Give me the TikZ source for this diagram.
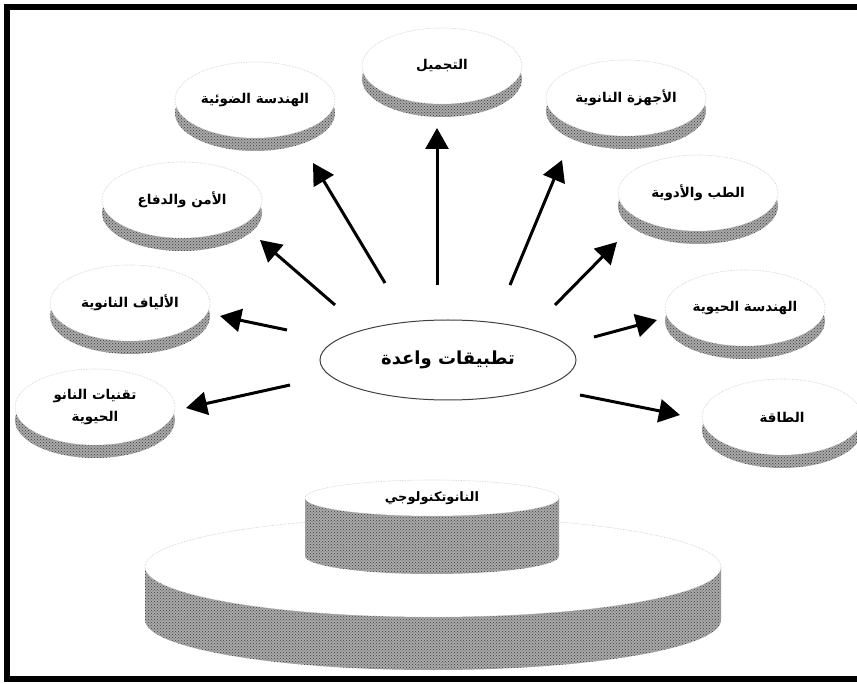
\documentclass[tikz,border=0pt]{standalone}
\usepackage{fontspec}
\newfontfamily\arabicfont[Script=Arabic]{DejaVu Sans}
\TeXXeTstate=1
\usetikzlibrary{shapes.geometric,arrows.meta,patterns}

\tikzset{
  disktop/.style={ellipse, minimum width=160pt, minimum height=76pt, inner sep=0pt,
    fill=white, draw=gray!45, densely dotted, line width=0.6pt, align=center,
    font=\arabicfont\bfseries\fontsize{13.5}{22}\selectfont},
  shadefill/.style={fill=gray!68},
  speckle/.style={pattern=crosshatch dots, pattern color=black!75},
  arr/.style={line width=3pt, -{Triangle[length=21pt,width=23pt]}},
  frameline/.style={line width=6pt, black},
}

\newcommand\mkdisk[4]{%
  \fill[shadefill] ({#2},{#3+13}) ellipse [x radius=80, y radius=38];
  \fill[speckle] ({#2},{#3+13}) ellipse [x radius=80, y radius=38];
  \node[disktop] (#1) at (#2,#3) {#4};
}

\begin{document}
\begin{tikzpicture}[x=1pt,y=-1pt]
\useasboundingbox (0,0) rectangle (857,684);
\fill[white] (0,0) rectangle (857,684);

% frame
\draw[frameline] (870,7) -- (7,7) -- (7,679) -- (870,679);

% disks
\mkdisk{tajmil}{442}{66}{\beginR التجميل\endR}
\mkdisk{daw}{255}{100}{\beginR الهندسة الضوئية\endR}
\mkdisk{ajhiza}{626}{98}{\beginR الأجهزة النانوية\endR}
\mkdisk{amn}{182}{200}{\beginR الأمن والدفاع\endR}
\mkdisk{tibb}{698}{193}{\beginR الطب والأدوية\endR}
\mkdisk{alyaf}{130}{303}{\beginR الألياف النانوية\endR}
\mkdisk{hayawiya}{745}{308}{\beginR الهندسة الحيوية\endR}
\mkdisk{taqniyat}{95}{407}{\beginR تقنيات النانو\endR\\\beginR الحيوية\endR}
\mkdisk{taqa}{782}{417}{\beginR الطاقة\endR}

% centre
\node[ellipse, draw=black!75, line width=1pt, fill=white, minimum width=256pt,
  minimum height=80pt, font=\arabicfont\bfseries\fontsize{18}{20}\selectfont]
  (c) at (448,360) {\beginR تطبيقات واعدة\endR};

% arrows
\coordinate (s1) at (385,283); \coordinate (e1) at (313,163);
\coordinate (s2) at (437,285); \coordinate (e2) at (437,128);
\coordinate (s3) at (510,285); \coordinate (e3) at (562,160);
\coordinate (s4) at (335,305); \coordinate (e4) at (260,240);
\coordinate (s5) at (555,305); \coordinate (e5) at (617,242);
\coordinate (s6) at (287,330); \coordinate (e6) at (220,316);
\coordinate (s7) at (594,337); \coordinate (e7) at (657,320);
\coordinate (s8) at (290,385); \coordinate (e8) at (186,408);
\coordinate (s9) at (580,395); \coordinate (e9) at (680,415);
\foreach \i in {1,...,9} { \draw[arr] (s\i) -- (e\i); }

% large base cylinder
\fill[shadefill] (145,567) -- (145,620) arc[start angle=180, end angle=0, x radius=288, y radius=50] -- (721,567) -- cycle;
\fill[speckle] (145,567) -- (145,620) arc[start angle=180, end angle=0, x radius=288, y radius=50] -- (721,567) -- cycle;
\draw[fill=white, draw=gray!45, densely dotted, line width=0.6pt] (433,567) ellipse [x radius=288, y radius=50];

% small cylinder
\fill[shadefill] (305,498) -- (305,556) arc[start angle=180, end angle=0, x radius=127, y radius=18] -- (559,498) -- cycle;
\fill[speckle] (305,498) -- (305,556) arc[start angle=180, end angle=0, x radius=127, y radius=18] -- (559,498) -- cycle;
\node[ellipse, fill=white, draw=gray!45, densely dotted, line width=0.6pt,
  minimum width=254pt, minimum height=36pt, inner sep=0pt,
  font=\arabicfont\bfseries\fontsize{13}{15}\selectfont]
  (nano) at (432,498) {\beginR النانوتكنولوجي\endR};
\end{tikzpicture}
\end{document}
